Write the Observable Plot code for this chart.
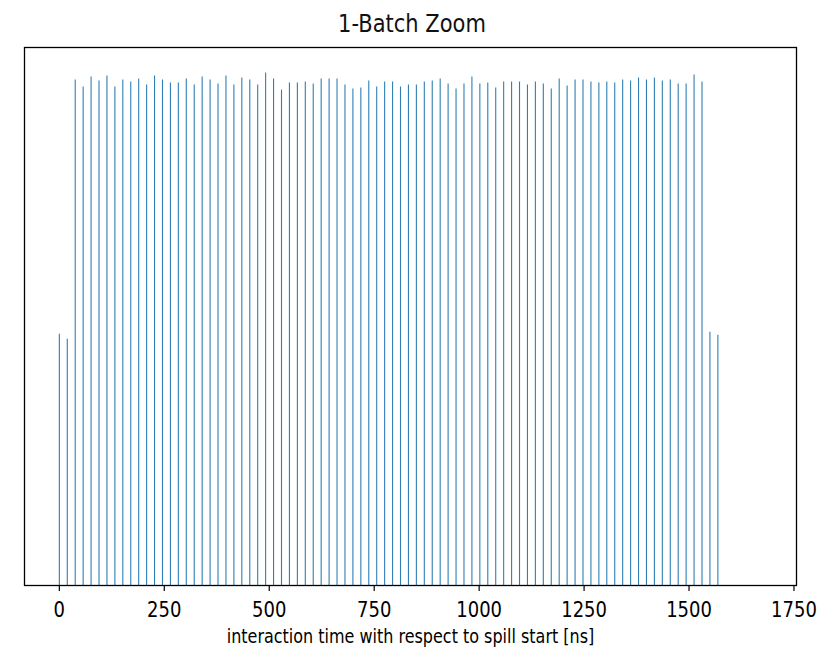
<!DOCTYPE html>
<html>
<head>
<meta charset="utf-8">
<script src="https://cdn.jsdelivr.net/npm/d3@7"></script>
<script src="https://cdn.jsdelivr.net/npm/@observablehq/plot@0.6"></script>
<style>
  html, body { margin: 0; padding: 0; background: #fff; }
  #title { width: 824px; height: 40px; overflow: visible; text-align: center; font-family: "DejaVu Sans", sans-serif; }
  #title span { display: inline-block; font-size: 21px; line-height: 21px; margin-top: 12px; transform: scaleY(1.18); transform-origin: 50% 0; color: #111; }
  #chart svg { display: block; }
</style>
</head>
<body>
<div id="title"><span>1-Batch Zoom</span></div>
<div id="chart"></div>
<script>
// interaction time of each bunch with respect to spill start [ns]
const times = [
  0.0, 18.9, 37.8, 56.7, 75.6, 94.5, 113.4, 132.3, 151.2, 170.1,
  189.0, 207.9, 226.8, 245.7, 264.6, 283.5, 302.4, 321.3, 340.2, 359.1,
  378.0, 396.9, 415.8, 434.7, 453.6, 472.5, 491.4, 510.3, 529.2, 548.1,
  567.0, 585.9, 604.8, 623.7, 642.6, 661.5, 680.4, 699.3, 718.2, 737.1,
  756.0, 774.9, 793.8, 812.7, 831.6, 850.5, 869.4, 888.3, 907.2, 926.1,
  945.0, 963.9, 982.8, 1001.7, 1020.6, 1039.5, 1058.4, 1077.3, 1096.2, 1115.1,
  1134.0, 1152.9, 1171.8, 1190.7, 1209.6, 1228.5, 1247.4, 1266.3, 1285.2, 1304.1,
  1323.0, 1341.9, 1360.8, 1379.7, 1398.6, 1417.5, 1436.4, 1455.3, 1474.2, 1493.1,
  1512.0, 1530.9, 1549.8, 1568.7
];
// relative interaction counts per bunch (arbitrary units)
const counts = [
  252, 247, 507, 500, 510, 506, 511, 500, 507, 505,
  508, 502, 511, 507, 504, 504, 508, 502, 510, 507,
  503, 511, 502, 509, 507, 502, 514, 508, 497, 504,
  504, 505, 503, 508, 508, 508, 502, 498, 499, 506,
  500, 505, 505, 500, 502, 502, 505, 506, 508, 503,
  498, 503, 510, 503, 504, 499, 505, 505, 505, 502,
  505, 503, 498, 508, 501, 507, 507, 505, 504, 505,
  504, 507, 506, 509, 507, 509, 506, 507, 503, 503,
  512, 505, 254, 251
];
const xTicks = [0, 250, 500, 750, 1000, 1250, 1500, 1750];
const xLabel = "interaction time with respect to spill start [ns]";
const xDomain = [-83, 1756];

const data = times.map((t, i) => ({t, v: counts[i]}));
const yMax = d3.max(counts) * 1.05;

const chart = Plot.plot({
  width: 824,
  height: 610,
  marginLeft: 24,
  marginRight: 28,
  marginTop: 7,
  marginBottom: 65,
  style: {fontFamily: "DejaVu Sans, sans-serif", background: "white", color: "black", overflow: "visible"},
  x: {domain: xDomain},
  y: {domain: [0, yMax], axis: null},
  marks: [
    Plot.ruleX(data, {x: "t", y1: () => 0, y2: "v", stroke: "#2f7fb5", strokeWidth: 1.1}),
    Plot.axisX({
      ticks: xTicks,
      tickSize: 6,
      tickPadding: 10,
      fontSize: 18,
      tickFormat: d => String(d),
      label: xLabel,
      labelAnchor: "center",
      labelArrow: "none",
      labelOffset: 57,
      stroke: "black",
      strokeWidth: 1.2,
      strokeOpacity: 1
    }),
    Plot.frame({stroke: "black", strokeWidth: 1.3})
  ]
});
chart.querySelectorAll('[aria-label="x-axis tick label"] text').forEach(t => {
  t.setAttribute("transform", (t.getAttribute("transform") || "") + " scale(1,1.2)");
});
chart.querySelectorAll('[aria-label="x-axis label"] text').forEach(t => {
  t.setAttribute("font-size", 16);
  t.setAttribute("transform", (t.getAttribute("transform") || "") + " scale(1,1.2)");
});
document.getElementById("chart").appendChild(chart);
</script>
</body>
</html>
